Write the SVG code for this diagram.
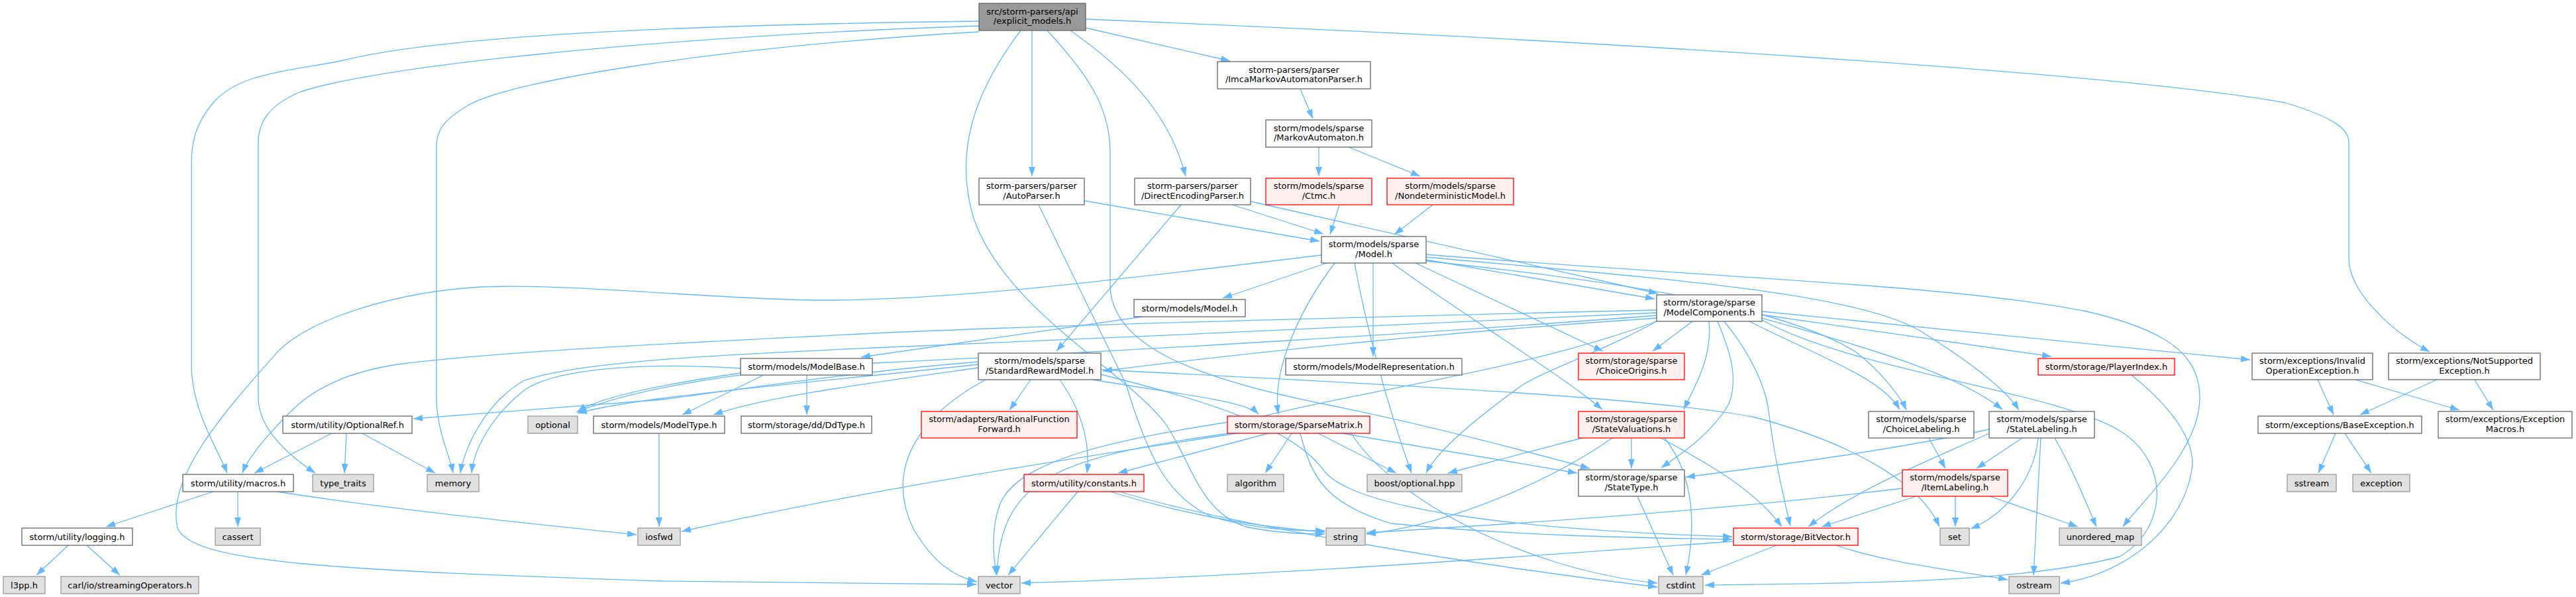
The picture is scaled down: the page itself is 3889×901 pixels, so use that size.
<svg xmlns="http://www.w3.org/2000/svg" width="3889" height="901" viewBox="0 0 3889 901">
<style>
rect{stroke-width:1.3}
.n rect{fill:#ffffff;stroke:#666666}
.r rect{fill:#fff0f0;stroke:#ff0000}
.g rect{fill:#e0e0e0;stroke:#999999}
.m rect{fill:#999999;stroke:#666666}
text{font-family:"DejaVu Sans","Liberation Sans",sans-serif;font-size:13px;text-anchor:middle;fill:#000000}
#edges path{fill:none;stroke:#63b8ff;stroke-width:1.3;marker-end:url(#ah)}
</style>
<defs>
<marker id="ah" markerUnits="userSpaceOnUse" markerWidth="14" markerHeight="10" refX="14" refY="5" orient="auto"><path d="M0,0 L14,5 L0,10 z" fill="#63b8ff"/></marker>
</defs>
<rect width="3889" height="901" fill="#ffffff"/>
<g id="edges">
<path d="M1639,42 L1857,92"/>
<path d="M1558,46 L1558,266"/>
<path d="M1616,46 C1700,105 1765,170 1790,266"/>
<path d="M1639,29 C2400,60 3200,110 3450,155 C3525,178 3546,195 3546,215 L3546,390 C3546,440 3610,500 3668,531"/>
<path d="M1478,32 C1000,38 660,55 514,92 C420,110 360,112 322,155 C296,185 289,215 289,245 L289,550 C289,620 330,680 343,714"/>
<path d="M1478,39 C1000,55 560,100 450,140 C405,160 390,185 390,215 L390,600 C390,650 440,690 476,714"/>
<path d="M1478,48 C1100,70 770,120 705,160 C672,180 659,195 659,220 L659,600 C659,650 680,690 684,714"/>
<path d="M1541,46 C1470,140 1440,230 1470,330 C1520,470 1700,560 1760,640 C1800,700 1810,770 1880,795 C1930,805 1970,806 2000,806"/>
<path d="M1581,46 C1640,110 1676,160 1676,230 L1676,430 C1676,520 1800,570 2000,610 C2150,640 2300,680 2400,707"/>
<path d="M1637,303 L1992,364"/>
<path d="M1568,309 L1700,580 C1730,680 1760,750 1830,780 C1900,800 1960,801 2000,801"/>
<path d="M1963,134 L1982,179"/>
<path d="M1991,222 L1991,266"/>
<path d="M2036,222 L2144,266"/>
<path d="M2022,309 L2008,354"/>
<path d="M2163,309 L2105,354"/>
<path d="M1860,309 L1998,353"/>
<path d="M1888,304 L2503,443"/>
<path d="M1783,309 L1595,530"/>
<path d="M2003,397 L1846,450"/>
<path d="M2073,397 L2073,538"/>
<path d="M2153,392 L2498,451"/>
<path d="M2137,397 L2420,530"/>
<path d="M2102,397 C2200,470 2350,560 2419,618"/>
<path d="M1995,385 C1700,420 1400,460 1191,452 C1050,448 850,428 727,433 C600,440 470,480 420,530 C340,620 250,720 268,797 C290,850 500,860 1000,877 L1474,882"/>
<path d="M2015,397 C1960,470 1920,560 1930,625"/>
<path d="M2153,384 C2600,420 2950,430 3150,470 C3280,500 3321,540 3321,600 C3321,680 3230,760 3205,795"/>
<path d="M2153,388 C2500,420 2800,440 2900,500 C2980,550 3030,590 3048,619"/>
<path d="M2153,394 C2500,430 2700,470 2800,530 C2840,560 2870,600 2878,619"/>
<path d="M2045,397 C2060,480 2090,600 2131,714"/>
<path d="M1725,478 L1300,539"/>
<path d="M2555,485 L2495,530"/>
<path d="M2580,485 C2585,540 2560,580 2542,618"/>
<path d="M2593,485 C2612,530 2625,570 2610,610 C2580,660 2530,690 2508,706"/>
<path d="M2603,485 C2640,530 2665,580 2670,620 C2680,700 2695,760 2703,794"/>
<path d="M2641,485 C2750,540 2840,570 2868,618"/>
<path d="M2660,480 C2800,520 2950,560 3023,618"/>
<path d="M2660,475 L3097,538"/>
<path d="M2660,470 L3397,543"/>
<path d="M2501,480 C2200,500 1900,530 1665,560"/>
<path d="M2501,468 C2200,475 1600,490 1319,503 C1000,519 760,530 600,550 C520,562 470,590 440,620 C405,655 375,690 366,714"/>
<path d="M2501,472 C2200,485 1700,510 1319,525 C1100,535 870,545 790,575 C730,610 700,680 695,714"/>
<path d="M2501,476 C2200,500 1700,530 1319,548 C1100,560 950,590 870,622"/>
<path d="M2501,485 C2300,560 2050,590 1900,630 C1700,660 1540,690 1510,760 C1495,800 1500,840 1504,868"/>
<path d="M2501,485 C2420,530 2330,560 2300,580 C2230,630 2170,680 2153,714"/>
<path d="M2660,483 C2800,560 3100,590 3200,650 C3280,700 3270,800 3200,840 C3050,880 2800,880 2574,883"/>
<path d="M1218,566 L1218,626"/>
<path d="M1153,566 L1030,626"/>
<path d="M1118,556 C950,545 830,560 790,590 C740,630 715,680 712,714"/>
<path d="M1118,563 C1000,580 900,600 872,622"/>
<path d="M1650,573 C1780,595 1880,605 1900,625"/>
<path d="M1600,573 C1640,630 1645,680 1641,714"/>
<path d="M1556,573 L1524,619"/>
<path d="M1488,573 C1400,620 1330,700 1380,800 C1410,850 1440,870 1475,878"/>
<path d="M1477,546 C1300,560 1100,590 1000,603 L624,632"/>
<path d="M1477,550 C1200,580 950,600 872,624"/>
<path d="M1477,555 C1300,580 1150,600 1077,626"/>
<path d="M1662,558 C2100,580 2500,600 2650,630 C2800,670 2900,730 2928,795"/>
<path d="M1662,565 C1800,600 1950,640 2000,712 C2050,770 2300,800 2615,810"/>
<path d="M1867,654 C1700,680 1350,730 1029,802"/>
<path d="M1855,654 C1600,690 1510,720 1505,868"/>
<path d="M1915,654 L1688,714"/>
<path d="M1950,654 L1910,714"/>
<path d="M1990,654 L2108,714"/>
<path d="M2026,654 L2381,714"/>
<path d="M1963,654 C1980,720 2000,760 2100,790 C2300,810 2500,812 2615,814"/>
<path d="M2040,654 C2100,750 2300,860 2502,880"/>
<path d="M1627,742 L1522,868"/>
<path d="M1676,742 C1800,780 1900,795 2000,803"/>
<path d="M1690,742 C1850,790 2200,850 2502,886"/>
<path d="M2389,661 L2186,714"/>
<path d="M2434,661 C2350,720 2200,790 2063,806"/>
<path d="M2463,661 L2463,707"/>
<path d="M2507,661 C2580,700 2650,740 2690,795"/>
<path d="M2513,661 C2560,720 2560,800 2545,868"/>
<path d="M2472,749 L2526,868"/>
<path d="M2912,661 L2937,707"/>
<path d="M2872,737 C2600,770 2300,790 2063,804"/>
<path d="M2893,749 L2750,795"/>
<path d="M2952,749 L2952,795"/>
<path d="M3004,749 L3137,795"/>
<path d="M3053,661 L2984,707"/>
<path d="M3077,661 C3070,730 3020,780 2975,798"/>
<path d="M3081,661 L3070,868"/>
<path d="M3102,661 C3130,710 3150,760 3165,795"/>
<path d="M3003,654 C2900,700 2800,740 2730,795"/>
<path d="M3003,648 C2850,680 2700,700 2545,720"/>
<path d="M2682,823 L2568,868"/>
<path d="M2772,823 C2850,850 2950,860 3031,875"/>
<path d="M2617,817 C2300,840 1900,870 1542,880"/>
<path d="M3218,566 C3260,600 3310,650 3310,700 C3300,800 3200,870 3111,880"/>
<path d="M3499,573 L3523,626"/>
<path d="M3556,573 L3713,619"/>
<path d="M3679,573 L3563,626"/>
<path d="M3736,573 L3764,619"/>
<path d="M3526,654 L3500,714"/>
<path d="M3540,654 L3580,714"/>
<path d="M322,742 L160,795"/>
<path d="M359,742 L359,795"/>
<path d="M418,742 C600,770 800,790 961,807"/>
<path d="M103,823 L55,868"/>
<path d="M131,823 L181,868"/>
<path d="M501,654 L384,714"/>
<path d="M523,654 L520,714"/>
<path d="M547,654 L657,714"/>
<path d="M995,654 L995,795"/>
</g>
<g id="n_main" class="m"><rect x="1478" y="5" width="161" height="41"/><text x="1558.5" y="21.5">src/storm-parsers/api</text><text x="1558.5" y="36">/explicit_models.h</text></g>
<g id="n_imca" class="n"><rect x="1838" y="93" width="231" height="41"/><text x="1953.5" y="109.5">storm-parsers/parser</text><text x="1953.5" y="124">/ImcaMarkovAutomatonParser.h</text></g>
<g id="n_ma" class="n"><rect x="1911" y="181" width="160" height="41"/><text x="1991" y="197.5">storm/models/sparse</text><text x="1991" y="212">/MarkovAutomaton.h</text></g>
<g id="n_auto" class="n"><rect x="1478" y="269" width="159" height="40"/><text x="1557.5" y="285">storm-parsers/parser</text><text x="1557.5" y="299.5">/AutoParser.h</text></g>
<g id="n_dep" class="n"><rect x="1713" y="269" width="175" height="40"/><text x="1800.5" y="285">storm-parsers/parser</text><text x="1800.5" y="299.5">/DirectEncodingParser.h</text></g>
<g id="n_ctmc" class="r"><rect x="1911" y="269" width="160" height="40"/><text x="1991" y="285">storm/models/sparse</text><text x="1991" y="299.5">/Ctmc.h</text></g>
<g id="n_ndm" class="r"><rect x="2094" y="269" width="191" height="40"/><text x="2189.5" y="285">storm/models/sparse</text><text x="2189.5" y="299.5">/NondeterministicModel.h</text></g>
<g id="n_smodel" class="n"><rect x="1995" y="357" width="158" height="40"/><text x="2074" y="373">storm/models/sparse</text><text x="2074" y="387.5">/Model.h</text></g>
<g id="n_model" class="n"><rect x="1712" y="452" width="168" height="26"/><text x="1796" y="469.5">storm/models/Model.h</text></g>
<g id="n_mc" class="n"><rect x="2501" y="445" width="159" height="40"/><text x="2580.5" y="461">storm/storage/sparse</text><text x="2580.5" y="475.5">/ModelComponents.h</text></g>
<g id="n_mbase" class="n"><rect x="1118" y="541" width="199" height="25"/><text x="1217.5" y="558">storm/models/ModelBase.h</text></g>
<g id="n_srm" class="n"><rect x="1477" y="533" width="185" height="40"/><text x="1569.5" y="549">storm/models/sparse</text><text x="1569.5" y="563.5">/StandardRewardModel.h</text></g>
<g id="n_mrep" class="n"><rect x="1941" y="541" width="266" height="25"/><text x="2074" y="558">storm/models/ModelRepresentation.h</text></g>
<g id="n_co" class="r"><rect x="2383" y="533" width="160" height="40"/><text x="2463" y="549">storm/storage/sparse</text><text x="2463" y="563.5">/ChoiceOrigins.h</text></g>
<g id="n_pi" class="r"><rect x="3077" y="541" width="206" height="25"/><text x="3180" y="558">storm/storage/PlayerIndex.h</text></g>
<g id="n_ioe" class="n"><rect x="3400" y="533" width="182" height="40"/><text x="3491" y="549">storm/exceptions/Invalid</text><text x="3491" y="563.5">OperationException.h</text></g>
<g id="n_nse" class="n"><rect x="3606" y="533" width="229" height="40"/><text x="3720.5" y="549">storm/exceptions/NotSupported</text><text x="3720.5" y="563.5">Exception.h</text></g>
<g id="n_oref" class="n"><rect x="427" y="628" width="195" height="26"/><text x="524.5" y="645.5">storm/utility/OptionalRef.h</text></g>
<g id="n_optional" class="g"><rect x="797" y="628" width="75" height="26"/><text x="834.5" y="645.5">optional</text></g>
<g id="n_mtype" class="n"><rect x="896" y="628" width="198" height="26"/><text x="995" y="645.5">storm/models/ModelType.h</text></g>
<g id="n_ddtype" class="n"><rect x="1119" y="628" width="197" height="26"/><text x="1217.5" y="645.5">storm/storage/dd/DdType.h</text></g>
<g id="n_rff" class="r"><rect x="1391" y="621" width="235" height="40"/><text x="1508.5" y="637">storm/adapters/RationalFunction</text><text x="1508.5" y="651.5">Forward.h</text></g>
<g id="n_sm" class="r"><rect x="1853" y="628" width="215" height="26"/><text x="1960.5" y="645.5">storm/storage/SparseMatrix.h</text></g>
<g id="n_sv" class="r"><rect x="2383" y="621" width="160" height="40"/><text x="2463" y="637">storm/storage/sparse</text><text x="2463" y="651.5">/StateValuations.h</text></g>
<g id="n_cl" class="n"><rect x="2821" y="621" width="159" height="40"/><text x="2900.5" y="637">storm/models/sparse</text><text x="2900.5" y="651.5">/ChoiceLabeling.h</text></g>
<g id="n_sl" class="n"><rect x="3003" y="621" width="159" height="40"/><text x="3082.5" y="637">storm/models/sparse</text><text x="3082.5" y="651.5">/StateLabeling.h</text></g>
<g id="n_be" class="n"><rect x="3409" y="628" width="247" height="26"/><text x="3532.5" y="645.5">storm/exceptions/BaseException.h</text></g>
<g id="n_em" class="n"><rect x="3681" y="621" width="202" height="40"/><text x="3782" y="637">storm/exceptions/Exception</text><text x="3782" y="651.5">Macros.h</text></g>
<g id="n_macros" class="n"><rect x="276" y="716" width="167" height="26"/><text x="359.5" y="733.5">storm/utility/macros.h</text></g>
<g id="n_tt" class="g"><rect x="472" y="716" width="92" height="26"/><text x="518" y="733.5">type_traits</text></g>
<g id="n_memory" class="g"><rect x="645" y="716" width="78" height="26"/><text x="684" y="733.5">memory</text></g>
<g id="n_const" class="r"><rect x="1546" y="716" width="181" height="26"/><text x="1636.5" y="733.5">storm/utility/constants.h</text></g>
<g id="n_algo" class="g"><rect x="1853" y="716" width="85" height="26"/><text x="1895.5" y="733.5">algorithm</text></g>
<g id="n_bopt" class="g"><rect x="2064" y="716" width="143" height="26"/><text x="2135.5" y="733.5">boost/optional.hpp</text></g>
<g id="n_st" class="n"><rect x="2383" y="709" width="160" height="40"/><text x="2463" y="725">storm/storage/sparse</text><text x="2463" y="739.5">/StateType.h</text></g>
<g id="n_il" class="r"><rect x="2872" y="709" width="159" height="40"/><text x="2951.5" y="725">storm/models/sparse</text><text x="2951.5" y="739.5">/ItemLabeling.h</text></g>
<g id="n_sstream" class="g"><rect x="3453" y="716" width="74" height="26"/><text x="3490" y="733.5">sstream</text></g>
<g id="n_exc" class="g"><rect x="3552" y="716" width="86" height="26"/><text x="3595" y="733.5">exception</text></g>
<g id="n_logging" class="n"><rect x="33" y="797" width="167" height="26"/><text x="116.5" y="814.5">storm/utility/logging.h</text></g>
<g id="n_cassert" class="g"><rect x="325" y="797" width="68" height="26"/><text x="359" y="814.5">cassert</text></g>
<g id="n_iosfwd" class="g"><rect x="963" y="797" width="64" height="26"/><text x="995" y="814.5">iosfwd</text></g>
<g id="n_string" class="g"><rect x="2002" y="797" width="59" height="26"/><text x="2031.5" y="814.5">string</text></g>
<g id="n_bv" class="r"><rect x="2617" y="797" width="188" height="26"/><text x="2711" y="814.5">storm/storage/BitVector.h</text></g>
<g id="n_set" class="g"><rect x="2929" y="797" width="44" height="26"/><text x="2951" y="814.5">set</text></g>
<g id="n_umap" class="g"><rect x="3109" y="797" width="124" height="26"/><text x="3171" y="814.5">unordered_map</text></g>
<g id="n_l3pp" class="g"><rect x="5" y="870" width="63" height="26"/><text x="36.5" y="887.5">l3pp.h</text></g>
<g id="n_carl" class="g"><rect x="92" y="870" width="208" height="26"/><text x="196" y="887.5">carl/io/streamingOperators.h</text></g>
<g id="n_vector" class="g"><rect x="1477" y="870" width="63" height="26"/><text x="1508.5" y="887.5">vector</text></g>
<g id="n_cstdint" class="g"><rect x="2504" y="870" width="67" height="26"/><text x="2537.5" y="887.5">cstdint</text></g>
<g id="n_ostream" class="g"><rect x="3033" y="870" width="76" height="26"/><text x="3071" y="887.5">ostream</text></g>
</svg>
